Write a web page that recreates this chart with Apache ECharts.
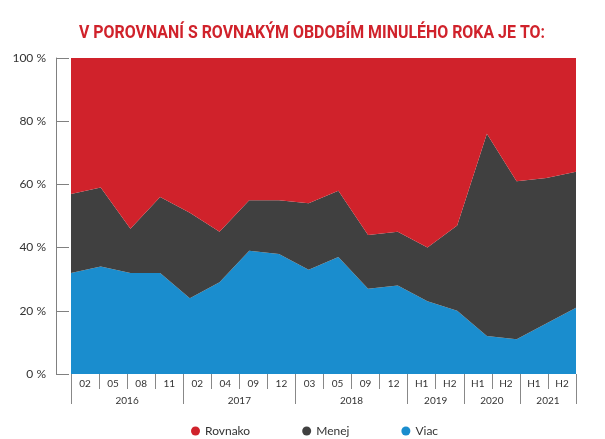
<!DOCTYPE html>
<html>
<head>
<meta charset="utf-8">
<script src="https://cdn.jsdelivr.net/npm/echarts@6/dist/echarts.min.js"></script>
<style>html,body{margin:0;padding:0;background:#fff}#c{width:605px;height:439px}</style>
</head>
<body>
<div id="c"></div>
<script>
var titleText = 'V POROVNANÍ S ROVNAKÝM OBDOBÍM MINULÉHO ROKA JE TO:';
var periods = ['02','05','08','11','02','04','09','12','03','05','09','12','H1','H2','H1','H2','H1','H2'];
var years = ['2016','2017','2018','2019','2020','2021'];
var yearSpans = [4,4,4,2,2,2];
var viac    = [32,34,32,32,24,29,39,38,33,37,27,28,23,20,12,11,16,21];
var menej   = [25,25,14,24,27,16,16,17,21,21,17,17,17,27,64,50,46,43];
var rovnako = [43,41,54,44,49,55,45,45,46,42,56,55,60,53,24,39,38,36];

var idx = periods.map(function(_, i){ return i; });
var yearBounds = [0], yearCenters = [];
var acc = 0;
yearSpans.forEach(function(s){ yearCenters.push(acc + s/2); acc += s; yearBounds.push(acc); });

var font = 'Lato';
var titleFont = 'bold 18px Roboto';
var cv = document.createElement('canvas').getContext('2d');
cv.font = titleFont;
var titleW = cv.measureText(titleText).width;
var titleScale = 466 / titleW;

var chart = echarts.init(document.getElementById('c'), null, {renderer:'canvas'});
function areaSeries(name, data, color){
  return {
    name: name, type: 'line', stack: 'total', data: data,
    xAxisIndex: 0, yAxisIndex: 0,
    symbol: 'none', lineStyle: {width: 0, color: color},
    itemStyle: {color: color},
    areaStyle: {color: color, opacity: 1}
  };
}
chart.setOption({
  animation: false,
  graphic: [{
    type: 'text', x: 79, y: 33, scaleX: titleScale, scaleY: 1,
    style: {text: titleText, font: titleFont, fill: '#D0222B', textVerticalAlign: 'middle', textAlign: 'left'}
  }],
  legend: {
    data: ['Rovnako','Menej','Viac'],
    left: 186, top: 420, icon: 'circle', itemWidth: 9, itemHeight: 9, itemGap: 52,
    textStyle: {fontFamily: font, fontSize: 12, color: '#333'}
  },
  grid: {left: 71, right: 29, top: 58, bottom: 65, containLabel: false},
  xAxis: [
    {type: 'category', data: idx, boundaryGap: false, show: false},
    {type: 'category', data: periods, boundaryGap: true, position: 'bottom',
     axisLine: {show: false, onZero: false},
     axisTick: {show: true, interval: 0, length: 15, lineStyle: {color: '#888'}},
     axisLabel: {interval: 0, margin: 5, fontFamily: font, fontSize: 10, color: '#333'}},
    {type: 'value', min: 0, max: periods.length, position: 'bottom',
     axisLine: {show: false, onZero: false}, splitLine: {show: false},
     axisTick: {show: true, customValues: yearBounds, length: 30, lineStyle: {color: '#888'}},
     axisLabel: {customValues: yearCenters, margin: 22, fontFamily: font, fontSize: 10, color: '#333',
       formatter: function(v){ var i = yearCenters.indexOf(v); return i >= 0 ? years[i] : ''; }}}
  ],
  yAxis: [{
    type: 'value', min: 0, max: 100, interval: 20, offset: 15, position: 'left',
    axisLine: {show: true, onZero: false, lineStyle: {color: '#808080', width: 1}},
    axisTick: {show: true, inside: true, length: 13, lineStyle: {color: '#808080', width: 1}},
    splitLine: {show: false},
    axisLabel: {margin: 10, fontFamily: font, fontSize: 12, color: '#333', formatter: '{value} %'}
  }],
  series: [
    areaSeries('Viac', viac, '#1A8DCE'),
    areaSeries('Menej', menej, '#404040'),
    areaSeries('Rovnako', rovnako, '#D0222B')
  ]
});
</script>
</body>
</html>
